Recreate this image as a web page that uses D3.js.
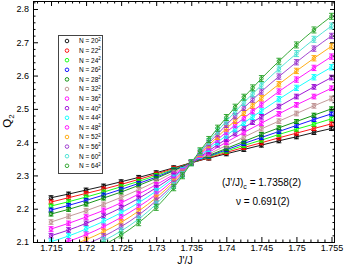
<!DOCTYPE html>
<html><head><meta charset="utf-8">
<script src="https://cdnjs.cloudflare.com/ajax/libs/d3/7.8.5/d3.min.js"></script>
<style>
html,body{margin:0;padding:0;background:#fff;}
svg{display:block;font-family:"Liberation Sans",Arial,Helvetica,sans-serif;}
</style></head>
<body>
<svg id="chart" width="345" height="265"></svg>
<script>
// ---------- data ----------
const sizes = [20,22,24,26,28,32,36,40,44,48,52,56,60,64];
const colors = ["#000000","#ff0000","#00ff00","#0000ff","#008b00","#bc8f8f","#ff00ff",
                "#9400d3","#00ffff","#ff00ff","#ffa500","#9932cc","#40e0d0","#22a022"];
const xCoarse = [1.715,1.7175,1.72,1.7225,1.725,1.7275,1.73,1.7325,1.735,1.7375,1.74,1.7425,1.745,1.7475,1.75,1.7525,1.755];
const xFine = [1.715,1.7175,1.72,1.7225,1.725,1.7275,1.73,1.7325,1.73375,1.735,1.73625,1.7375,1.73875,1.74,1.74125,1.7425,1.74375,1.745,1.7475,1.75,1.7525,1.755];
const q20 = [2.233,2.244,2.256,2.268,2.281,2.294,2.308,2.323,2.338,2.352,2.365,2.378,2.391,2.404,2.416,2.429,2.441];
const q22 = [2.220,2.233,2.246,2.259,2.273,2.288,2.304,2.321,2.338,2.353,2.369,2.384,2.398,2.413,2.427,2.441,2.455];
const q24 = [2.208,2.221,2.235,2.250,2.266,2.282,2.300,2.318,2.338,2.356,2.373,2.390,2.406,2.423,2.439,2.454,2.470];
const q26 = [2.196,2.210,2.225,2.241,2.258,2.276,2.295,2.316,2.338,2.358,2.377,2.396,2.414,2.432,2.450,2.468,2.485];
const q28 = [2.184,2.198,2.214,2.232,2.250,2.270,2.291,2.314,2.338,2.360,2.381,2.402,2.423,2.443,2.462,2.481,2.500];
const q32 = [2.160,2.177,2.194,2.213,2.234,2.257,2.282,2.309,2.338,2.364,2.390,2.415,2.440,2.463,2.486,2.509,2.531];
const q36 = [2.139,2.156,2.175,2.195,2.218,2.244,2.272,2.303,2.338,2.369,2.400,2.429,2.457,2.485,2.512,2.537,2.562];
const q40 = [2.119,2.136,2.156,2.178,2.203,2.231,2.263,2.298,2.317,2.338,2.356,2.374,2.392,2.409,2.426,2.443,2.460,2.476,2.507,2.537,2.566,2.594];
const q44 = [2.101,2.118,2.139,2.162,2.188,2.218,2.253,2.293,2.315,2.338,2.359,2.380,2.400,2.420,2.439,2.458,2.476,2.494,2.529,2.563,2.595,2.625];
const q48 = [2.085,2.102,2.122,2.146,2.174,2.206,2.243,2.287,2.312,2.338,2.362,2.385,2.408,2.430,2.451,2.472,2.493,2.513,2.552,2.588,2.623,2.657];
const q52 = [null,2.087,2.107,2.131,2.159,2.193,2.233,2.281,2.308,2.338,2.365,2.391,2.416,2.441,2.464,2.488,2.510,2.532,2.574,2.614,2.652,2.688];
const q56 = [null,2.073,2.093,2.117,2.146,2.181,2.224,2.275,2.305,2.338,2.368,2.397,2.424,2.452,2.478,2.503,2.528,2.552,2.597,2.640,2.681,2.719];
const q60 = [null,null,2.080,2.104,2.133,2.169,2.214,2.270,2.302,2.338,2.371,2.402,2.433,2.463,2.491,2.519,2.545,2.571,2.620,2.666,2.709,2.749];
const q64 = [null,null,null,2.091,2.121,2.158,2.204,2.263,2.299,2.338,2.374,2.408,2.442,2.474,2.505,2.535,2.563,2.591,2.643,2.692,2.737,2.778];
const errs = [0.006,0.006,0.006,0.006,0.006,0.007,0.007,0.007,0.008,0.008,0.008,0.008,0.009,0.009];
const xTicks = [1.715,1.72,1.725,1.73,1.735,1.74,1.745,1.75,1.755];
const yTicks = [2.1,2.2,2.3,2.4,2.5,2.6,2.7,2.8];
const critText = "1.7358(2)";
const nuText = "0.691(2)";

const qs = [q20,q22,q24,q26,q28,q32,q36,q40,q44,q48,q52,q56,q60,q64];
const series = sizes.map((L,i)=>{
  const xs = qs[i].length === xCoarse.length ? xCoarse : xFine;
  return {L, color:colors[i], err:errs[i],
    pts: xs.map((x,j)=>({x, q:qs[i][j]})).filter(p=>p.q!==null)};
});

// ---------- layout ----------
const L0 = 33, R0 = 335, T0 = 1, B0 = 242;
const x = d3.scaleLinear().domain([1.71243, 1.7555]).range([L0, R0]);
const y = d3.scaleLinear().domain([2.1, 2.824]).range([B0, T0]);
const svg = d3.select("#chart");

svg.append("defs").append("clipPath").attr("id","clip")
  .append("rect").attr("x",L0).attr("y",T0).attr("width",R0-L0).attr("height",B0-T0);

const plot = svg.append("g").attr("clip-path","url(#clip)");
const line = d3.line().x(d=>x(d.x)).y(d=>y(d.q)).curve(d3.curveMonotoneX);

series.forEach(s=>{
  plot.append("path").datum(s.pts).attr("d",line)
    .attr("fill","none").attr("stroke",s.color).attr("stroke-width",0.9);
});
series.forEach(s=>{
  const g = plot.append("g").attr("stroke",s.color).attr("fill","none").attr("stroke-width",0.9);
  s.pts.forEach(p=>{
    const cx = x(p.x), cy = y(p.q), y1 = y(p.q+s.err), y2 = y(p.q-s.err);
    g.append("line").attr("x1",cx).attr("x2",cx).attr("y1",y1).attr("y2",y2);
    g.append("line").attr("x1",cx-2.5).attr("x2",cx+2.5).attr("y1",y1).attr("y2",y1);
    g.append("line").attr("x1",cx-2.5).attr("x2",cx+2.5).attr("y1",y2).attr("y2",y2);
    g.append("circle").attr("cx",cx).attr("cy",cy).attr("r",1.8);
  });
});

// ---------- axes ----------
const xMinor = d3.range(1713,1756).filter(v=>v%5!==0).map(v=>v/1000);
const yMinor = d3.range(210,283,2).filter(v=>v%10!==0).map(v=>v/100);
function styleAxis(g){ g.select(".domain").remove(); g.selectAll("line").attr("stroke","#000");
  g.selectAll("text").attr("font-size",9).attr("fill","#000").attr("font-family","Liberation Sans, Arial, sans-serif"); }

svg.append("g").attr("transform",`translate(0,${B0})`)
  .call(d3.axisBottom(x).tickValues(xTicks).tickSize(-5).tickPadding(3).tickFormat(d=>String(d))).call(styleAxis);
svg.append("g").attr("transform",`translate(0,${B0})`)
  .call(d3.axisBottom(x).tickValues(xMinor).tickSize(-2.5).tickFormat("")).call(styleAxis);
svg.append("g").attr("transform",`translate(0,${T0})`)
  .call(d3.axisTop(x).tickValues(xTicks).tickSize(-5).tickFormat("")).call(styleAxis);
svg.append("g").attr("transform",`translate(0,${T0})`)
  .call(d3.axisTop(x).tickValues(xMinor).tickSize(-2.5).tickFormat("")).call(styleAxis);
svg.append("g").attr("transform",`translate(${L0},0)`)
  .call(d3.axisLeft(y).tickValues(yTicks).tickSize(-5).tickPadding(4).tickFormat(d=>String(d))).call(styleAxis);
svg.append("g").attr("transform",`translate(${L0},0)`)
  .call(d3.axisLeft(y).tickValues(yMinor).tickSize(-2.5).tickFormat("")).call(styleAxis);
svg.append("g").attr("transform",`translate(${R0},0)`)
  .call(d3.axisRight(y).tickValues(yTicks).tickSize(-5).tickFormat("")).call(styleAxis);
svg.append("g").attr("transform",`translate(${R0},0)`)
  .call(d3.axisRight(y).tickValues(yMinor).tickSize(-2.5).tickFormat("")).call(styleAxis);

svg.append("rect").attr("x",L0+0.5).attr("y",T0+0.5).attr("width",R0-L0-1).attr("height",B0-T0)
  .attr("fill","none").attr("stroke","#000").attr("stroke-width",1);

// axis titles
const yl = svg.append("text").attr("transform","translate(11,121) rotate(-90)")
  .attr("text-anchor","middle").attr("font-size",11.5);
yl.append("tspan").text("Q");
yl.append("tspan").attr("dy",3).attr("font-size",8).text("2");
svg.append("text").attr("x",185).attr("y",263.5).attr("text-anchor","middle").attr("font-size",10.5).text("J'/J");

// legend
const lg = svg.append("g");
lg.append("rect").attr("x",58.5).attr("y",35.5).attr("width",44).attr("height",138)
  .attr("fill","#fff").attr("stroke","#444").attr("stroke-width",1);
series.forEach((s,i)=>{
  const cy = 41 + i*9.6;
  lg.append("circle").attr("cx",67).attr("cy",cy).attr("r",1.8).attr("fill","none")
    .attr("stroke",s.color).attr("stroke-width",0.9);
  const t = lg.append("text").attr("x",79).attr("y",cy+2.4).attr("font-size",6.5);
  t.append("tspan").text("N = " + s.L);
  t.append("tspan").attr("dy",-2.6).attr("font-size",4.5).text("2");
});

// annotation
const a1 = svg.append("text").attr("x",222).attr("y",186).attr("font-size",10);
a1.append("tspan").text("(J'/J)");
a1.append("tspan").attr("dy",2.5).attr("font-size",7).text("c");
a1.append("tspan").attr("dy",-2.5).text(" = " + critText);
svg.append("text").attr("x",236).attr("y",205).attr("font-size",10).text("\u03bd = " + nuText);
</script>
</body></html>
